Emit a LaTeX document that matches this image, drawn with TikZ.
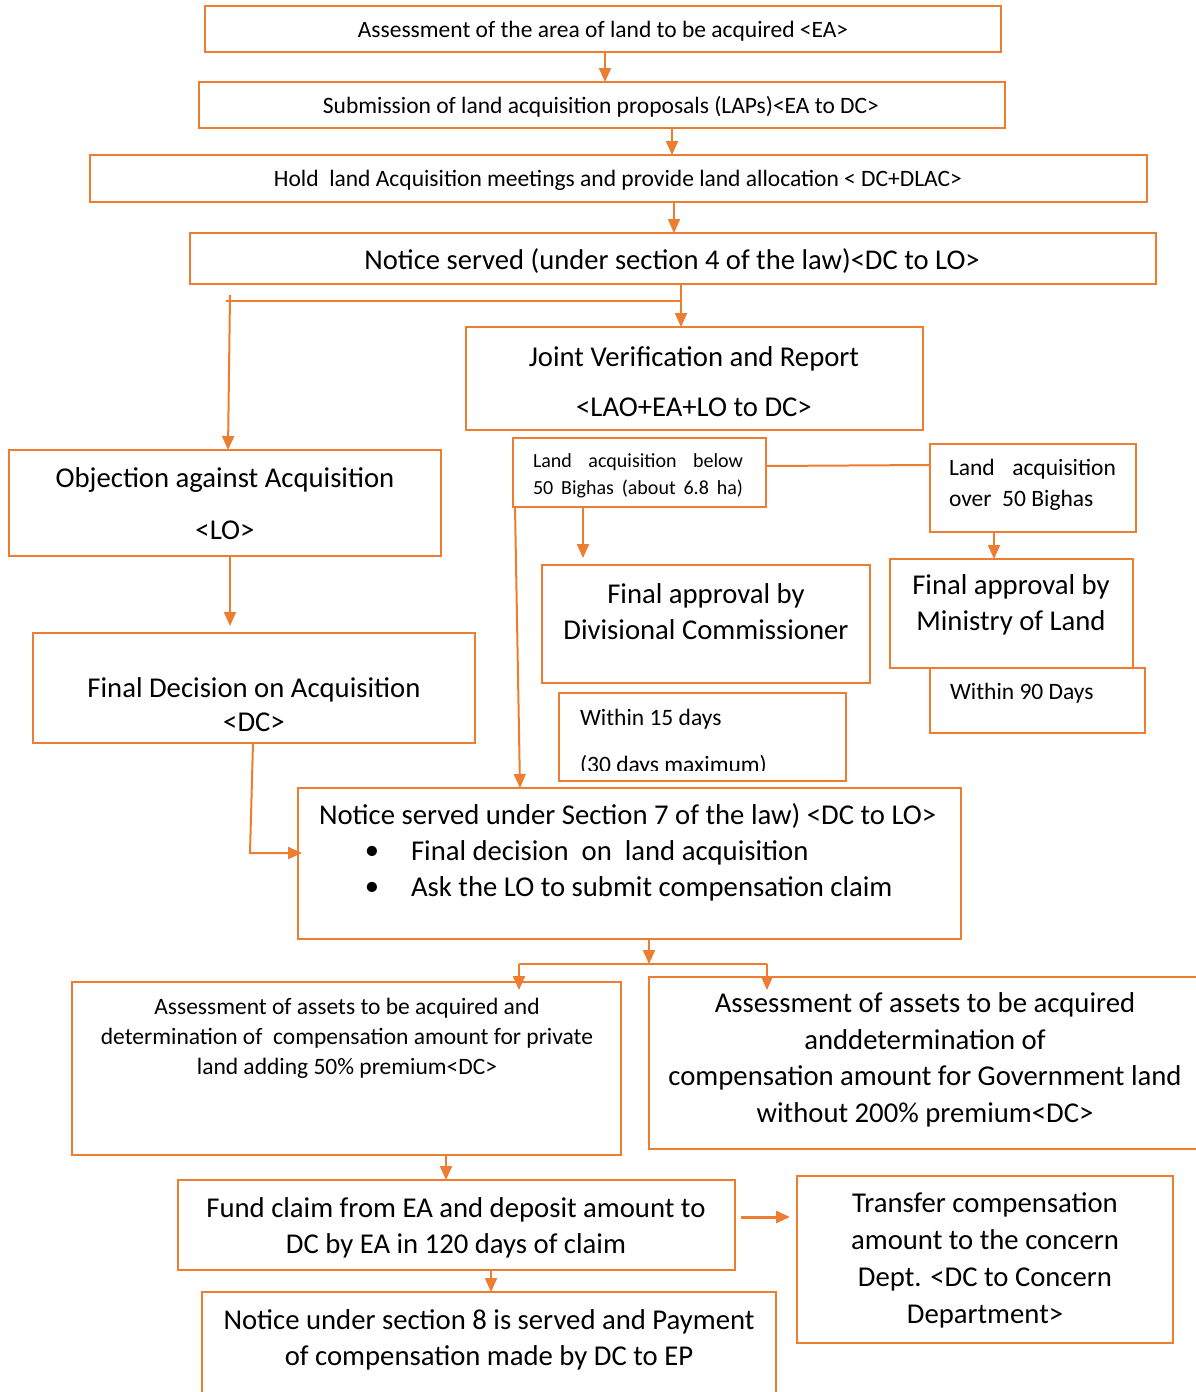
\documentclass[tikz,border=0pt]{standalone}
\usepackage{fontspec}
\setmainfont{Carlito}
\usetikzlibrary{arrows.meta}
\definecolor{flow}{RGB}{237,125,49}
\newcommand\fsz[2]{\fontsize{#1}{#2}\selectfont}
\tikzset{
  bx/.style={draw=flow, line width=2.6pt, inner sep=0pt, outer sep=0pt},
  txt/.style={inner sep=0pt, outer sep=0pt, text=black},
  conn/.style={draw=flow, line width=2pt},
  arr/.style={conn, -{Triangle[length=14pt,width=12pt]}},
}
\begin{document}
\begin{tikzpicture}[x=1pt,y=-1pt]
\useasboundingbox (0,0) rectangle (1195,1392);
% ---- boxes ----
\node[bx, minimum width=796pt, minimum height=46pt] (b1) at (603,29) {};
\node[bx, minimum width=806pt, minimum height=46pt] (b2) at (602,105) {};
\node[bx, minimum width=1057pt, minimum height=47pt] (b3) at (618.5,178.5) {};
\node[bx, minimum width=966pt, minimum height=51pt] (b4) at (673,258.5) {};
\node[bx, minimum width=457pt, minimum height=103pt] (joint) at (694.5,378.5) {};
\node[bx, minimum width=432pt, minimum height=106pt] (obj) at (225,503) {};
\node[bx, minimum width=253pt, minimum height=69pt] (below) at (639.5,472.5) {};
\node[bx, minimum width=206pt, minimum height=88pt] (over) at (1033,488) {};
\node[bx, minimum width=328pt, minimum height=118pt] (div) at (706,624) {};
\node[bx, minimum width=287pt, minimum height=88pt] (w15) at (702.5,737) {};
\node[bx, minimum width=243pt, minimum height=109pt] (min) at (1011.5,613.5) {};
\node[bx, minimum width=215pt, minimum height=65pt] (w90) at (1037.5,700.5) {};
\node[bx, minimum width=442pt, minimum height=110pt] (fdec) at (254,688) {};
\node[bx, minimum width=663pt, minimum height=151pt] (s7) at (629.5,863.5) {};
\node[bx, minimum width=549pt, minimum height=173pt] (priv) at (346.5,1068.5) {};
\node[bx, minimum width=566pt, minimum height=172pt] (gov) at (932,1063) {};
\node[bx, minimum width=557pt, minimum height=90pt] (fund) at (456.5,1225) {};
\node[bx, minimum width=376pt, minimum height=167pt] (trans) at (985,1259.5) {};
\node[bx, minimum width=574pt, minimum height=128pt] (n8) at (489,1356) {};

% ---- texts ----
\node[txt, font=\fsz{23.5}{28}] (t1) at (603,31) {Assessment of the area of land to be acquired <EA>};
\node[txt, font=\fsz{23.5}{28}] (t2) at (601,107) {Submission of land acquisition proposals (LAPs)<EA to DC>};
\node[txt, font=\fsz{23.5}{28}] (t3) at (618,180) {Hold\ \ land Acquisition meetings and provide land allocation < DC+DLAC>};
\node[txt, font=\fsz{28.6}{34}] (t4) at (672,261) {Notice served (under section 4 of the law)<DC to LO>};
\node[txt, font=\fsz{28.7}{50}, align=center] (tj) at (694,382) {Joint Verification and Report\\<LAO+EA+LO to DC>};
\node[txt, font=\fsz{28.7}{52}, align=center] (to) at (225,504) {Objection against Acquisition\\<LO>};
\begin{scope}
  \clip (513,438) rectangle (766,497);
  \node[txt, font=\fsz{20}{27}, anchor=base west, align=left] (tb) at (533,494)
    {\makebox[210pt][s]{Land acquisition below}\\\makebox[210pt][s]{50 Bighas (about 6.8 ha)}};
\end{scope}
\node[txt, font=\fsz{23.5}{31}, anchor=west, align=left] (tov) at (949,485)
  {\makebox[167pt][s]{Land acquisition}\\over\ \ 50 Bighas};
\node[txt, font=\fsz{28.7}{36}, align=center] (tdiv) at (706,612) {Final approval by\\Divisional Commissioner};
\begin{scope}
  \clip (559,693) rectangle (846,770);
  \node[txt, font=\fsz{23.5}{47}, anchor=base west, align=left] (tw15) at (580,772) {Within 15 days\\(30 days maximum)};
\end{scope}
\node[txt, font=\fsz{28.7}{36}, align=center] (tmin) at (1011,605) {Final approval by\\Ministry of Land};
\node[txt, font=\fsz{23.5}{28}, anchor=west] (tw90) at (950,693) {Within 90 Days};
\node[txt, font=\fsz{28.7}{34}, align=center] (tfd) at (254,705) {Final Decision on Acquisition\\<DC>};
\node[txt, font=\fsz{28.7}{37}, anchor=west] (ts7) at (319,816) {Notice served under Section 7 of the law) <DC to LO>};
\node[txt, font=\fsz{28.7}{37}] (bu1) at (372,853) {\textbullet};
\node[txt, font=\fsz{28.7}{37}] (bu2) at (372,889) {\textbullet};
\node[txt, font=\fsz{28.7}{37}, anchor=west] (ts7a) at (411,853) {Final decision\ \ on\ \ land acquisition};
\node[txt, font=\fsz{28.7}{37}, anchor=west] (ts7b) at (411,889) {Ask the LO to submit compensation claim};
\node[txt, font=\fsz{23.5}{30}, align=center] (tpr) at (347,1038) {Assessment of assets to be acquired and\\determination of\ \ compensation amount for private\\land adding 50\% premium<DC>};
\node[txt, font=\fsz{28.7}{36.5}, align=center] (tgov) at (925,1060) {Assessment of assets to be acquired\\anddetermination of\\compensation amount for Government land\\without 200\% premium<DC>};
\node[txt, font=\fsz{28.7}{36}, align=center] (tfund) at (456,1228) {Fund claim from EA and deposit amount to\\DC by EA in 120 days of claim};
\node[txt, font=\fsz{28.7}{37}, align=center] (ttr) at (985,1260) {Transfer compensation\\amount to the concern\\Dept. <DC to Concern\\Department>};
\node[txt, font=\fsz{28.7}{36}, align=center] (tn8) at (489,1340) {Notice under section 8 is served and Payment\\of compensation made by DC to EP};

% ---- connectors ----
\draw[arr] (b1.south -| 605,0) -- (b2.north -| 605,0);
\draw[arr] (b2.south -| 672,0) -- (b3.north -| 672,0);
\draw[arr] (b3.south -| 674,0) -- (b4.north -| 674,0);
\draw[arr] (b4.south -| 681,0) -- (joint.north -| 681,0);
\coordinate (split) at (681,301);
\coordinate (lstart) at (230,295);
\draw[conn] (split) -- (226,301);
\draw[arr] (lstart) -- (obj.north -| 228,0);
\draw[arr, shorten >=7pt] (obj.south -| 230,0) -- (fdec.north -| 230,0);
\draw[conn, -{Triangle[length=14pt,width=12pt]}] (fdec.south -| 253,0) -- (250,853) -- ([xshift=4pt]s7.west |- 0,853);
\draw[arr] (below.south -| 515,0) -- (s7.north -| 520,0);
\draw[conn] (below.east |- 0,466) -- (over.west |- 0,465);
\draw[arr, shorten >=7pt] (below.south -| 583,0) -- (div.north -| 583,0);
\draw[arr] (over.south -| 994,0) -- (min.north -| 994,0);
\coordinate (split2) at (649,964);
\draw[arr] (s7.south -| 649,0) -- (split2);
\draw[conn] (519,964) -- (767,964);
\draw[arr, shorten >=-8pt] (519,964) -- (priv.north -| 519,0);
\draw[arr, shorten >=-13pt] (767,964) -- (gov.north -| 767,0);
\draw[arr] (priv.south -| 446,0) -- (fund.north -| 446,0);
\draw[arr, line width=3pt, shorten <=6pt, shorten >=7pt] (fund.east |- 0,1217) -- (trans.west |- 0,1217);
\draw[arr] (fund.south -| 491,0) -- (n8.north -| 491,0);
\end{tikzpicture}
\end{document}
